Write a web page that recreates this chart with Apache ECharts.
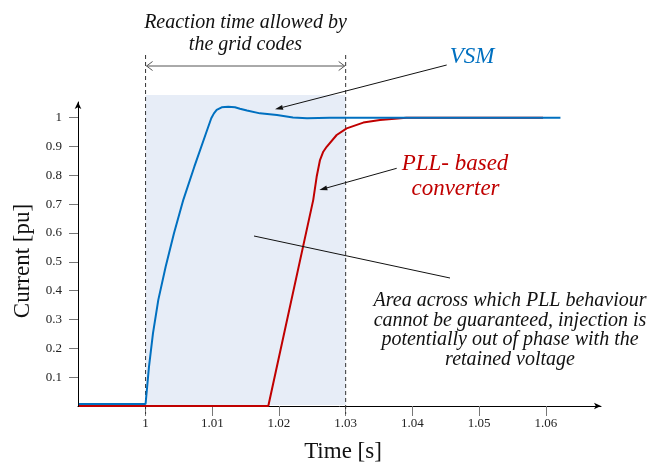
<!DOCTYPE html>
<html>
<head>
<meta charset="utf-8">
<script src="https://cdn.jsdelivr.net/npm/echarts@6/dist/echarts.min.js"></script>
<style>
  html, body { margin: 0; padding: 0; background: #fff; }
  #chart { width: 652px; height: 463px; }
</style>
</head>
<body>
<div id="chart"></div>
<script>
// VSM current response
var vsmTime = [0.99, 1.0, 1.00051, 1.00111, 1.00191, 1.00301, 1.00426, 1.00566, 1.00731, 1.00906, 1.00985, 1.01025, 1.01066, 1.01141, 1.0124, 1.0134, 1.01415, 1.0152, 1.01715, 1.0197, 1.0221, 1.0242, 1.0276, 1.035, 1.0622];
var vsmCurrent = [0.007, 0.007, 0.136, 0.252, 0.368, 0.483, 0.599, 0.715, 0.830, 0.946, 0.998, 1.015, 1.027, 1.036, 1.038, 1.036, 1.031, 1.025, 1.015, 1.009, 1.001, 0.998, 1.0, 1.0, 1.0];

// PLL-based converter current response
var pllTime = [0.99, 1.0184, 1.02514, 1.02565, 1.02615, 1.02664, 1.02715, 1.02865, 1.03015, 1.03264, 1.03514, 1.0391, 1.0596];
var pllCurrent = [0, 0, 0.715, 0.795, 0.853, 0.882, 0.899, 0.94, 0.963, 0.983, 0.992, 1.0, 1.0];

// reaction time window allowed by the grid codes
var windowStart = 1.0;
var windowEnd = 1.03;

var xTicks = [1, 1.01, 1.02, 1.03, 1.04, 1.05, 1.06];
var yTicks = [0.1, 0.2, 0.3, 0.4, 0.5, 0.6, 0.7, 0.8, 0.9, 1];

var serif = "Liberation Serif";

function pairs(xs, ys) {
  return xs.map(function (x, i) { return [x, ys[i]]; });
}

// line with a small filled arrow head at (x2, y2)
function arrow(x1, y1, x2, y2, head) {
  var a = Math.atan2(y2 - y1, x2 - x1);
  var len = 8, w = 2.5;
  var bx = x2 - len * Math.cos(a), by = y2 - len * Math.sin(a);
  var items = [{
    type: 'line', z: 50,
    shape: { x1: x1, y1: y1, x2: head ? bx : x2, y2: head ? by : y2 },
    style: { stroke: '#111', lineWidth: 1 }
  }];
  if (head) {
    items.push({
      type: 'polygon', z: 50,
      shape: { points: [[x2, y2], [bx - w * Math.sin(a), by + w * Math.cos(a)], [bx + w * Math.sin(a), by - w * Math.cos(a)]] },
      style: { fill: '#111' }
    });
  }
  return items;
}

function label(text, x, y, size, color) {
  return {
    type: 'text', x: x, y: y, z: 50,
    style: {
      text: text, fontFamily: serif, fontStyle: 'italic', fontSize: size,
      fill: color, textAlign: 'center', textVerticalAlign: 'middle'
    }
  };
}

var myChart = echarts.init(document.getElementById('chart'));

var graphics = []
  .concat(arrow(446.7, 65, 275, 109.3, true))
  .concat(arrow(396.7, 168.3, 319.3, 190, true))
  .concat(arrow(450, 278, 254, 236, false))
  .concat([
    label('Reaction time allowed by', 245.5, 22.5, 20, '#111'),
    label('the grid codes', 245.5, 44.5, 20, '#111'),
    label('VSM', 472, 56.5, 23, '#0070C0'),
    label('PLL- based', 455, 163.5, 23, '#C00000'),
    label('converter', 455.5, 188.5, 23, '#C00000'),
    label('Area across which PLL behaviour', 510, 301, 20, '#111'),
    label('cannot be guaranteed, injection is', 510, 320.5, 20, '#111'),
    label('potentially out of phase with the', 510, 340, 20, '#111'),
    label('retained voltage', 510, 359.5, 20, '#111')
  ]);

var option = {
  animation: false,
  grid: { left: 78, right: 51, top: 102, bottom: 57, containLabel: false, outerBoundsMode: 'none' },
  xAxis: {
    type: 'value',
    min: 0.98987,
    max: 1.06828,
    name: 'Time [s]',
    nameLocation: 'middle',
    nameGap: 34,
    nameTextStyle: { fontFamily: serif, fontSize: 23, color: '#111', padding: [0, 0, 0, 7] },
    axisLine: { show: true, lineStyle: { color: '#000', width: 1 }, symbol: ['none', 'arrow'], symbolSize: [5, 7] },
    axisTick: { show: true, length: 10, lineStyle: { color: '#777' }, customValues: xTicks },
    axisLabel: { fontFamily: serif, fontSize: 13, color: '#222', margin: 11, customValues: xTicks },
    splitLine: { show: false }
  },
  yAxis: {
    type: 'value',
    min: 0,
    max: 1.0544,
    name: 'Current [pu]',
    nameLocation: 'middle',
    nameGap: 41,
    nameTextStyle: { fontFamily: serif, fontSize: 23, color: '#111', padding: [0, 14, 0, 0] },
    axisLine: { show: true, lineStyle: { color: '#000', width: 1 }, symbol: ['none', 'arrow'], symbolSize: [5, 7] },
    axisTick: { show: true, length: 9, lineStyle: { color: '#777' }, customValues: yTicks },
    axisLabel: { fontFamily: serif, fontSize: 13, color: '#222', margin: 16, customValues: yTicks },
    splitLine: { show: false }
  },
  graphic: graphics,
  series: [
    {
      type: 'custom',
      z: 1,
      silent: true,
      data: [[windowStart, windowEnd]],
      encode: { x: [0, 1] },
      renderItem: function (params, api) {
        var x0 = api.coord([api.value(0), 0])[0];
        var x1 = api.coord([api.value(1), 0])[0];
        var yBase = api.coord([0, 0])[1];
        var yTop = 95;
        var spanY = 66;
        var dash = { stroke: '#333', lineWidth: 1, lineDash: [4, 3] };
        var gray = { stroke: '#555', lineWidth: 1, fill: null };
        return {
          type: 'group',
          children: [
            { type: 'rect', shape: { x: x0, y: yTop, width: x1 - x0, height: yBase - yTop - 1 }, style: { fill: '#E7EDF7' } },
            { type: 'line', shape: { x1: x0, y1: 55, x2: x0, y2: 414 }, style: dash },
            { type: 'line', shape: { x1: x1, y1: 55, x2: x1, y2: 414 }, style: dash },
            { type: 'line', shape: { x1: x0 + 1, y1: spanY, x2: x1 - 1, y2: spanY }, style: gray },
            { type: 'polyline', shape: { points: [[x0 + 7, spanY - 4.5], [x0 + 1, spanY], [x0 + 7, spanY + 4.5]] }, style: gray },
            { type: 'polyline', shape: { points: [[x1 - 7, spanY - 4.5], [x1 - 1, spanY], [x1 - 7, spanY + 4.5]] }, style: gray }
          ]
        };
      }
    },
    {
      name: 'PLL- based converter',
      type: 'line',
      z: 3,
      data: pairs(pllTime, pllCurrent),
      showSymbol: false,
      smooth: false,
      lineStyle: { color: '#C00000', width: 2 }
    },
    {
      name: 'VSM',
      type: 'line',
      z: 4,
      data: pairs(vsmTime, vsmCurrent),
      showSymbol: false,
      smooth: false,
      lineStyle: { color: '#0070C0', width: 2 }
    }
  ]
};

myChart.setOption(option);
</script>
</body>
</html>
